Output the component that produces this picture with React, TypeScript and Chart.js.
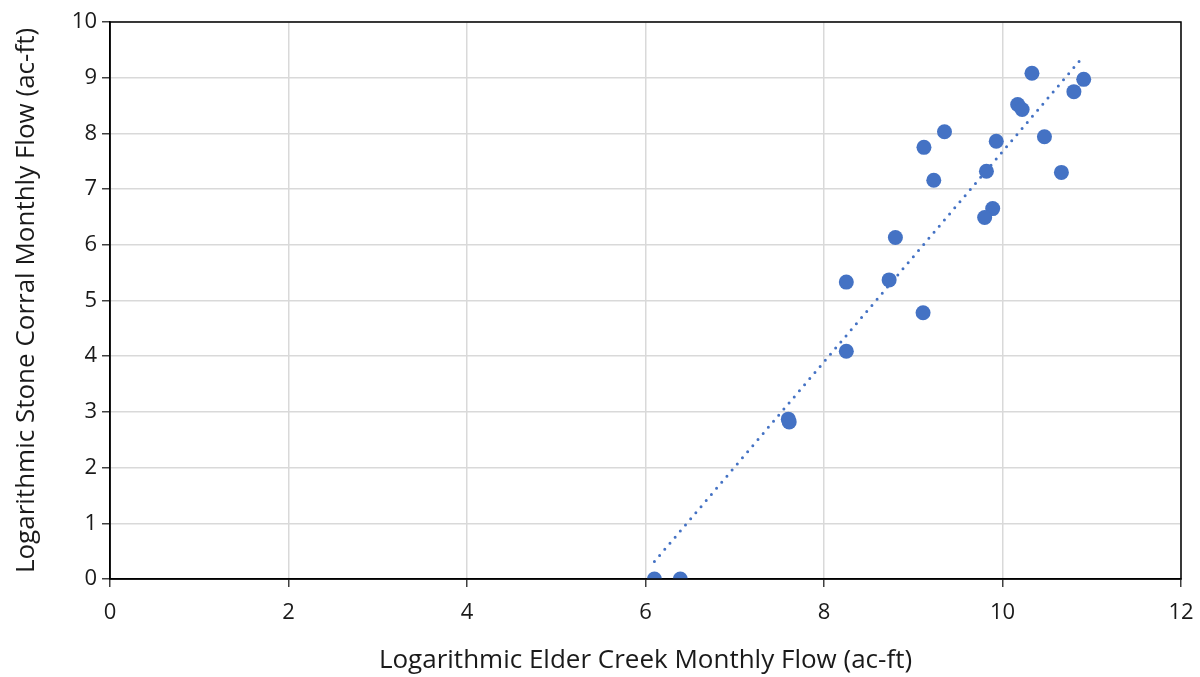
import React, { useEffect, useRef } from "react";
import { Chart, registerables } from "chart.js";

Chart.register(...registerables);

const elderCreek = [10.33, 10.91, 10.80, 10.17, 10.22, 9.35, 9.12, 9.93, 10.47, 9.82, 10.66, 9.23, 9.89, 9.80, 8.80, 8.25, 8.73, 9.11, 8.25, 7.60, 7.61, 6.10, 6.39];
const stoneCorral = [9.08, 8.97, 8.75, 8.52, 8.43, 8.03, 7.75, 7.86, 7.94, 7.32, 7.30, 7.16, 6.65, 6.49, 6.13, 5.33, 5.37, 4.78, 4.09, 2.87, 2.82, 0.0, 0.0];

const xTicks = [0, 2, 4, 6, 8, 10, 12];
const yTicks = [0, 1, 2, 3, 4, 5, 6, 7, 8, 9, 10];

const xTitle = "Logarithmic Elder Creek Monthly Flow (ac-ft)";
const yTitle = "Logarithmic Stone Corral Monthly Flow (ac-ft)";

function linearFit(xs: number[], ys: number[]) {
  const n = xs.length;
  const mx = xs.reduce((a, b) => a + b, 0) / n;
  const my = ys.reduce((a, b) => a + b, 0) / n;
  let sxy = 0, sxx = 0;
  for (let i = 0; i < n; i++) {
    sxy += (xs[i] - mx) * (ys[i] - my);
    sxx += (xs[i] - mx) * (xs[i] - mx);
  }
  const slope = sxy / sxx;
  return { slope, intercept: my - slope * mx };
}

const FONT = "'Open Sans', Lato, sans-serif";
const TEXT = "#1a1a1a";

export default function App() {
  const ref = useRef<HTMLCanvasElement | null>(null);
  useEffect(() => {
    if (!ref.current) return;
    const fit = linearFit(elderCreek, stoneCorral);
    const xmin = Math.min(...elderCreek);
    const xmax = Math.max(...elderCreek);
    const trend = [
      { x: xmin, y: fit.slope * xmin + fit.intercept },
      { x: xmax, y: fit.slope * xmax + fit.intercept },
    ];
    const borderPlugin = {
      id: "frame",
      afterDatasetsDraw(chart: any) {
        const { ctx, chartArea } = chart;
        ctx.save();
        ctx.strokeStyle = "#000";
        ctx.lineWidth = 1.5;
        ctx.strokeRect(chartArea.left, chartArea.top, chartArea.right - chartArea.left, chartArea.bottom - chartArea.top);
        ctx.restore();
      },
    };
    const chart = new Chart(ref.current, {
      type: "scatter",
      data: {
        datasets: [
          {
            label: "Trend",
            data: trend,
            showLine: true,
            borderColor: "#4472C4",
            borderWidth: 3,
            borderDash: [0, 8],
            borderCapStyle: "round",
            pointRadius: 0,
            fill: false,
            order: 2,
          } as any,
          {
            label: "Flow",
            data: elderCreek.map((x, i) => ({ x, y: stoneCorral[i] })),
            backgroundColor: "#4472C4",
            borderColor: "#4472C4",
            pointRadius: 7.5,
            pointHoverRadius: 7.5,
            borderWidth: 0,
            order: 1,
          },
        ],
      },
      options: {
        animation: false,
        responsive: true,
        maintainAspectRatio: false,
        layout: { padding: { left: 0, right: 19, top: 22, bottom: 0 } },
        plugins: { legend: { display: false }, tooltip: { enabled: false } },
        scales: {
          x: {
            type: "linear",
            min: 0,
            max: 12,
            afterBuildTicks: (s: any) => { s.ticks = xTicks.map((v) => ({ value: v })); },
            afterFit: (s: any) => { s.height = 98; s.paddingLeft = 0; s.paddingRight = 0; },
            grid: { color: "#d9d9d9", lineWidth: 1.5, tickColor: "#404040", tickLength: 8, tickWidth: 1.5 },
            border: { color: "#000", width: 1.5 },
            ticks: { color: TEXT, font: { family: FONT, size: 22 }, padding: 13 },
            title: { display: true, text: xTitle, color: TEXT, font: { family: FONT, size: 26 }, padding: { top: 12, bottom: 1 } },
          },
          y: {
            type: "linear",
            min: 0,
            max: 10,
            afterBuildTicks: (s: any) => { s.ticks = yTicks.map((v) => ({ value: v })); },
            afterFit: (s: any) => { s.width = 110; s.paddingTop = 0; s.paddingBottom = 0; },
            grid: { color: "#d9d9d9", lineWidth: 1.5, tickColor: "#404040", tickLength: 8, tickWidth: 1.5 },
            border: { color: "#000", width: 1.5 },
            ticks: { color: TEXT, font: { family: FONT, size: 22 }, padding: 5 },
            title: { display: true, text: yTitle, color: TEXT, font: { family: FONT, size: 26 }, padding: { top: 11, bottom: 0 } },
          },
        },
      },
      plugins: [borderPlugin],
    });
    return () => chart.destroy();
  }, []);
  return (
    <div style={{ position: "absolute", left: 0, top: 0, width: 1200, height: 677, background: "#fff" }}>
      <canvas ref={ref} />
    </div>
  );
}
